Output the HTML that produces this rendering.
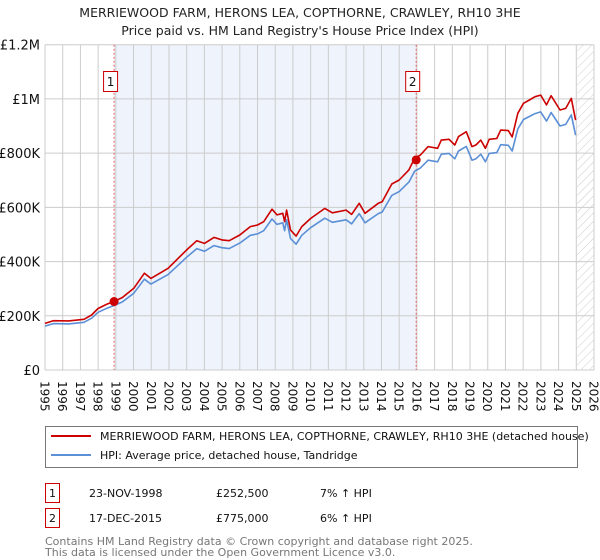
<!DOCTYPE html>
<html><head><meta charset="utf-8"><style>
body{margin:0;background:#fff;font-family:"DejaVu Sans","Liberation Sans",sans-serif;}
svg{display:block;font-family:"DejaVu Sans","Liberation Sans",sans-serif;}
</style></head><body>
<svg width="600" height="560" viewBox="0 0 600 560" xmlns="http://www.w3.org/2000/svg">
<defs>
<pattern id="hatch" width="6" height="6" patternUnits="userSpaceOnUse" patternTransform="rotate(45)">
<line x1="0" y1="0" x2="0" y2="6" stroke="#ccc" stroke-width="1"/>
</pattern>
</defs>
<g font-size="12.5" fill="#222" text-anchor="middle">
<text x="300" y="17">MERRIEWOOD FARM, HERONS LEA, COPTHORNE, CRAWLEY, RH10 3HE</text>
<text x="300" y="35">Price paid vs. HM Land Registry's House Price Index (HPI)</text>
</g>
<g id="plot"></g>
<g font-size="11" fill="#111">
<rect x="45.5" y="426.5" width="532" height="41" fill="#fff" stroke="#777"/>
<line x1="51" y1="436" x2="91" y2="436" stroke="#cc0000" stroke-width="2"/>
<text x="100" y="440">MERRIEWOOD FARM, HERONS LEA, COPTHORNE, CRAWLEY, RH10 3HE (detached house)</text>
<line x1="51" y1="455" x2="91" y2="455" stroke="#5b8fd6" stroke-width="2"/>
<text x="100" y="459">HPI: Average price, detached house, Tandridge</text>
</g>
<g font-size="11" fill="#111">
<rect x="45.5" y="483.5" width="14" height="19" fill="none" stroke="#cc0000"/>
<text x="52.5" y="497" text-anchor="middle">1</text>
<text x="89" y="497">23-NOV-1998</text>
<text x="216" y="497">£252,500</text>
<text x="320" y="497">7% ↑ HPI</text>
<rect x="45.5" y="508.5" width="14" height="19" fill="none" stroke="#cc0000"/>
<text x="52.5" y="522" text-anchor="middle">2</text>
<text x="89" y="522">17-DEC-2015</text>
<text x="216" y="522">£775,000</text>
<text x="320" y="522">6% ↑ HPI</text>
</g>
<g font-size="11" fill="#777">
<text x="45" y="545">Contains HM Land Registry data © Crown copyright and database right 2025.</text>
<text x="45" y="556">This data is licensed under the Open Government Licence v3.0.</text>
</g>
</svg>
<script>
const years=[1995.0,1995.47,1996.34,1997.2,1997.63,1998.0,1998.5,1998.86,1999.36,2000.01,2000.61,2000.98,2001.95,2003.0,2003.57,2004.0,2004.54,2004.99,2005.4,2006.0,2006.59,2007.0,2007.35,2007.82,2008.1,2008.43,2008.53,2008.64,2008.86,2009.18,2009.5,2010.0,2010.8,2011.23,2012.0,2012.31,2012.74,2013.07,2013.82,2014.04,2014.58,2015.0,2015.55,2015.87,2016.2,2016.63,2017.17,2017.38,2017.81,2018.14,2018.35,2018.79,2019.11,2019.33,2019.61,2019.87,2020.08,2020.51,2020.73,2021.16,2021.38,2021.7,2022.02,2022.35,2022.67,2022.99,2023.32,2023.58,2024.08,2024.4,2024.72,2024.96];
const priceValues=[172,182,181,187,203,227,243,252,267,301,357,338,375,443,477,467,489,480,477,498,529,535,547,593,572,578,547,590,516,494,529,559,596,580,590,574,615,578,615,621,686,701,738,781,793,824,818,848,851,830,861,879,824,830,848,818,851,854,885,883,860,947,984,996,1008,1014,978,1012,959,965,1002,922];
const hpiValues=[162,171,170,176,191,213,228,237,251,283,335,317,352,416,448,438,459,451,448,468,497,502,514,557,537,543,514,554,485,464,497,525,560,545,554,539,577,543,577,583,644,658,693,733,745,774,768,796,799,779,808,825,774,779,796,768,799,802,831,829,808,889,924,935,946,952,918,950,900,906,941,866];
const saleYears=[1998.9,2015.96];
const salePrices=[252.5,775];
const saleLabels=["1","2"];
const yTicks=[0,200,400,600,800,1000,1200];
const yTickLabels=["£0","£200K","£400K","£600K","£800K","£1M","£1.2M"];
const xTickYears=[1995,1996,1997,1998,1999,2000,2001,2002,2003,2004,2005,2006,2007,2008,2009,2010,2011,2012,2013,2014,2015,2016,2017,2018,2019,2020,2021,2022,2023,2024,2025,2026];

const NS="http://www.w3.org/2000/svg";
const X0=45,X1=594,Y0=370,Y1=44.7;
const xs=y=>X0+(y-1995)/(2026-1995)*(X1-X0);
const ys=v=>Y0-v/1200*(Y0-Y1);
const plot=document.getElementById('plot');
function mk(tag,attrs,parent){const e=document.createElementNS(NS,tag);for(const k in attrs)e.setAttribute(k,attrs[k]);(parent||plot).appendChild(e);return e;}

let r=mk('rect',{x:xs(saleYears[0]),y:Y1,width:xs(saleYears[1])-xs(saleYears[0]),height:Y0-Y1,fill:'#eef3fc'});


let h=mk('rect',{x:xs(2025.05),y:Y1,width:X1-xs(2025.05),height:Y0-Y1,fill:'url(#hatch)'});


xTickYears.forEach(yr=>{
  const l=mk('line',{x1:xs(yr),x2:xs(yr),y1:Y1,y2:Y0,stroke:'#ccc','stroke-width':1});
  
  
  const t=mk('text',{x:0,y:0,'font-size':12,fill:'#111',transform:`translate(${xs(yr)-4.5},381) rotate(90)`});
  t.textContent=yr;
  
  
});
yTicks.forEach((v,i)=>{
  const l=mk('line',{x1:X0,x2:X1,y1:ys(v),y2:ys(v),stroke:'#ccc','stroke-width':1});
  
  
  const t=mk('text',{x:40,y:ys(v)+5,'font-size':13,fill:'#111','text-anchor':'end'});
  t.textContent=yTickLabels[i];
  
  
});
saleYears.forEach((yr,i)=>{
  const l=mk('line',{x1:xs(yr),x2:xs(yr),y1:Y1,y2:Y0,stroke:'#e06060','stroke-width':1,'stroke-dasharray':'2,2'});
  
  
  const b=mk('rect',{x:xs(yr)-10.5,y:71.5,width:14,height:20,fill:'#fff',stroke:'#cc0000'});
  
  
  const t=mk('text',{x:xs(yr)-3.5,y:86,'font-size':12,fill:'#111','text-anchor':'middle'});
  t.textContent=saleLabels[i];
  
  
});
function line(vals,color,name){
  const d=vals.map((v,i)=>(i?'L':'M')+xs(years[i]).toFixed(1)+','+ys(v).toFixed(1)).join('');
  const p=mk('path',{d:d,fill:'none',stroke:color,'stroke-width':1.6,'stroke-linejoin':'round'});
  
  
}
line(hpiValues,'#5b8fd6','hpi-line');
line(priceValues,'#cc0000','price-line');
saleYears.forEach((yr,i)=>{
  const c=mk('circle',{cx:xs(yr),cy:ys(salePrices[i]),r:4.5,fill:'#cc0000'});
  
  
});
</script>
</body></html>
